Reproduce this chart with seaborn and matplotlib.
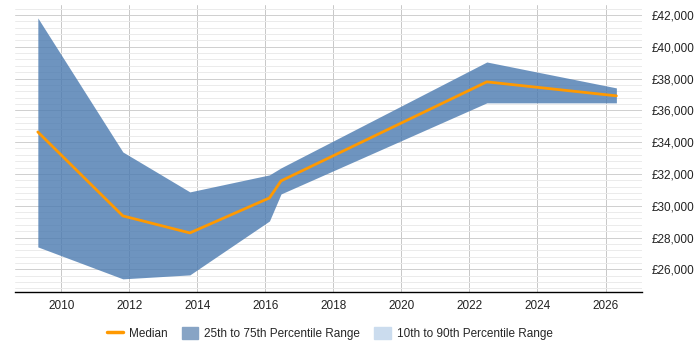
import pandas as pd
import matplotlib.pyplot as plt
import numpy as np
import seaborn as sns
from matplotlib.ticker import MultipleLocator, FuncFormatter
from matplotlib.lines import Line2D
from matplotlib.patches import Patch

sns.set_style('white')
plt.rcParams['font.family'] = ['Liberation Sans', 'DejaVu Sans']

# salary percentiles by year
years = [2009.31, 2011.81, 2013.78, 2016.12, 2016.46, 2022.51, 2026.32]
median = [34640, 29360, 28290, 30490, 31560, 37790, 36910]
p25 = [27410, 25400, 25650, 29040, 30740, 36470, 36470]
p75 = [41810, 33380, 30870, 31940, 32380, 39040, 37410]

df = pd.DataFrame({'year': years, 'median': median, 'p25': p25, 'p75': p75})

fig = plt.figure(figsize=(7, 3.5), dpi=100)
ax = fig.add_axes([0.021, 0.166, 0.896, 0.82])

# semi-transparent band so the grid shows through, like the original
ax.fill_between(df['year'], df['p25'], df['p75'], color='#4a7ab0', alpha=0.8, lw=0, zorder=2)
sns.lineplot(data=df, x='year', y='median', color='#ff9900', lw=2, ax=ax, zorder=3)

ax.set_xlim(2008.63, 2027.07)
ax.set_ylim(24580, 42630)
ax.xaxis.set_major_locator(MultipleLocator(2))
ax.yaxis.set_major_locator(MultipleLocator(2000))
ax.yaxis.set_minor_locator(MultipleLocator(400))
ax.yaxis.set_major_formatter(FuncFormatter(lambda v, p: '£{:,.0f}'.format(v)))
ax.yaxis.tick_right()

ax.grid(axis='x', which='major', color='#c8c8c8', lw=0.7, zorder=0)
ax.grid(axis='y', which='major', color='#cfcfcf', lw=0.7, zorder=0)
ax.grid(axis='y', which='minor', color='#ebebeb', lw=0.7, zorder=0)
ax.set_axisbelow(True)

for s in ['left', 'right', 'top']:
    ax.spines[s].set_visible(False)
ax.spines['bottom'].set_color('black')
ax.spines['bottom'].set_linewidth(1)

ax.tick_params(axis='both', which='both', length=0, labelsize=8.5, colors='#222222')
ax.tick_params(axis='x', pad=6)
ax.tick_params(axis='y', pad=7)
ax.set_xlabel('')
ax.set_ylabel('')

handles = [Line2D([0], [0], color='#ff9900', lw=2.5),
           Patch(color='#87a4c5'),
           Patch(color='#cbdcee')]
labels = ['Median', '25th to 75th Percentile Range', '10th to 90th Percentile Range']
fig.legend(handles, labels, loc='center', bbox_to_anchor=(0.471, 0.048), ncol=3, frameon=False,
           fontsize=8.5, handlelength=1.4, handleheight=1.3, columnspacing=1.2, handletextpad=0.5)

fig.savefig('out.png', dpi=100)
